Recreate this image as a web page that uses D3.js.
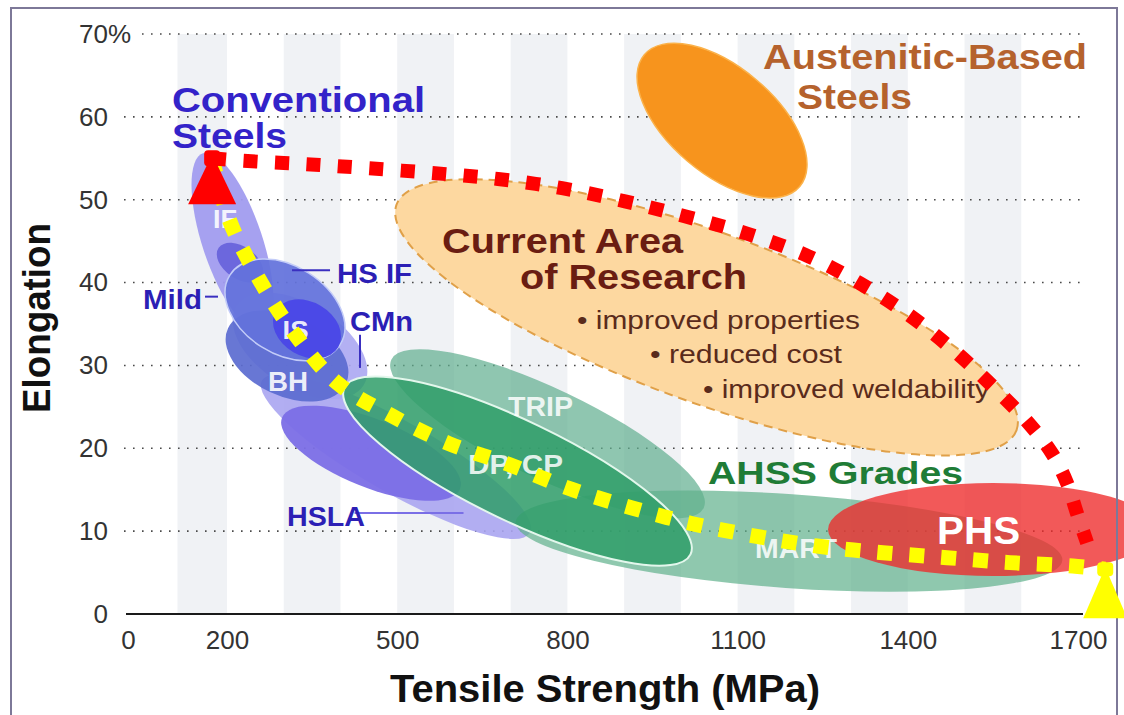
<!DOCTYPE html>
<html><head><meta charset="utf-8">
<script src="https://cdn.jsdelivr.net/npm/d3@7"></script>
<style>
body{margin:0;background:#fff}
svg{display:block;font-family:"Liberation Sans",Arial,Helvetica,sans-serif}
</style>
</head><body>
<svg id="chart" width="1124" height="715"></svg>
<script>
// ---------------- DATA ----------------
const xTicks = [0, 200, 500, 800, 1100, 1400, 1700];
const yTicks = [0, 10, 20, 30, 40, 50, 60, 70];
const stripeStarts = [100, 300, 500, 700, 900, 1100, 1300, 1500];
const stripeSpan = 100;

// ellipses: major-axis endpoints (MPa, %) and half width (% elongation)
const ellipseNames = ["current","austenitic","lavTail","lavIF","lavCMn","mild","hsla","bh","hsif","is","trip","mart","dpcp","phs"];
const ellipseX1 = [498.8, 935.6, 261.7, 151.5, 216.6, 183.2, 297.0, 201.8, 205.1, 286.0, 489.6, 708.9, 407.1, 1259.4];
const ellipseY1 = [49.4, 67.5, 28.2, 55.6, 37.1, 44.2, 23.7, 34.5, 40.9, 36.6, 30.7, 11.1, 27.3, 10.2];
const ellipseX2 = [1591.7, 1209.5, 734.0, 261.7, 440.8, 260.5, 610.7, 409.8, 399.4, 396.0, 1040.3, 1672.4, 1017.0, 1841.0];
const ellipseY2 = [22.2, 51.6, 9.8, 34.2, 27.6, 40.6, 15.1, 27.8, 32.5, 32.2, 12.8, 6.5, 7.2, 10.2];
const ellipseHalfWidth = [10.26, 6.43, 4.34, 3.62, 5.07, 1.93, 4.1, 4.83, 5.29, 3.26, 5.43, 5.67, 6.03, 5.61];

// red (upper) dotted trend curve
const redX = [170, 228, 337.5, 448.5, 566.7, 677.7, 790.5, 901.6, 1007, 1116.6, 1224, 1315.8, 1404, 1483, 1553.8, 1612, 1654, 1680.7, 1698, 1716];
const redY = [55.0, 54.7, 54.3, 53.8, 53.2, 52.5, 51.4, 49.8, 48.0, 45.9, 43.2, 39.9, 36.0, 31.7, 27.2, 23.1, 19.4, 15.8, 12.2, 8.6];
// yellow (lower) dotted trend curve
const yellowX = [170, 205, 255, 315, 394, 491, 590, 695, 801, 914, 1020, 1131, 1240, 1356, 1469, 1580, 1691, 1748];
const yellowY = [55.0, 47.4, 40.6, 34.2, 27.9, 23.9, 20.6, 18.1, 15.2, 12.8, 10.9, 9.4, 8.2, 7.4, 6.8, 6.2, 5.8, 5.4];
// triangle markers (MPa, %)
const redMarker = [170, 55.0];
const yellowMarker = [1748, 5.4];

// text labels (MPa, % baseline-start)
const labelText = ["Conventional","Steels","Austenitic-Based","Steels","Current Area","of Research",
  "\u2022 improved properties","\u2022 reduced cost","\u2022 improved weldability","AHSS Grades","PHS",
  "TRIP","DP, CP","MART","BH","IS","IF","HS IF","Mild","CMn","HSLA"];
const labelX = [88.9, 88.9, 1144.8, 1204.8, 579, 716.5, 817, 945.6, 1039, 1047.9, 1451.6, 695.3, 624.8, 1130.7, 272.3, 297.9, 171.7, 393.9, 30.3, 416.8, 305.8];
const labelY = [60.6, 56.3, 65.8, 60.9, 43.6, 39.2, 34.4, 30.3, 26.1, 15.7, 8.4, 23.9, 16.9, 6.8, 26.9, 33.2, 46.6, 39.9, 36.8, 34.2, 10.6];

// leader lines for small labels
const leaderX1 = [314.6, 155.6, 434.4, 424.8];
const leaderY1 = [41.5, 38.3, 33.7, 12.2];
const leaderX2 = [381.6, 181.8, 434.4, 616.9];
const leaderY2 = [41.5, 38.3, 29.7, 12.2];

// ---------------- STYLES ----------------
const ellipseStyle = {
  current:{fill:"#fdd8a0",stroke:"#e0a048",sw:2,dash:"9,6",op:1},
  austenitic:{fill:"#f7941d",stroke:"#fbb24a",sw:1.5,op:1},
  lavTail:{fill:"#aaa5f1",op:0.9},
  lavIF:{fill:"#a19cef",op:0.95},
  lavCMn:{fill:"#aba7f2",op:0.9},
  mild:{fill:"#6660da",op:0.9},
  hsla:{fill:"#7b6ee6",op:0.95},
  bh:{fill:"#5b6bd0",op:0.92},
  hsif:{fill:"#6372dc",op:0.93,stroke:"#c3ccf8",sw:1.5},
  is:{fill:"#4a47e7",op:0.95},
  trip:{fill:"#5fae8e",op:0.7},
  mart:{fill:"#5fb08b",op:0.7},
  dpcp:{fill:"#2f9e68",op:0.85,stroke:"#e3f7ec",sw:2},
  phs:{fill:"#ee2a2a",op:0.78}
};
const labelStyle = [
  {fs:35,fw:"bold",c:"#3323c9",len:253},{fs:35,fw:"bold",c:"#3323c9",len:115},
  {fs:35,fw:"bold",c:"#b5622d",len:324},{fs:35,fw:"bold",c:"#b5622d",len:115},
  {fs:35,fw:"bold",c:"#6a1d12",len:241},{fs:35,fw:"bold",c:"#6a1d12",len:227},
  {fs:26,fw:"normal",c:"#5a2b1b",len:283},{fs:26,fw:"normal",c:"#5a2b1b",len:192},{fs:26,fw:"normal",c:"#5a2b1b",len:287},
  {fs:32,fw:"bold",c:"#1f7c36",len:255},
  {fs:38,fw:"bold",c:"#ffffff",len:83},
  {fs:28,fw:"bold",c:"#ffffff",len:65,op:0.85},{fs:27,fw:"bold",c:"#ffffff",len:95,op:0.85},{fs:28,fw:"bold",c:"#ffffff",len:82,op:0.85},
  {fs:27,fw:"bold",c:"#ffffff",len:40,op:0.9},{fs:26,fw:"bold",c:"#ffffff",len:26,op:0.9},{fs:26,fw:"bold",c:"#ffffff",len:24,op:0.9},
  {fs:28,fw:"bold",c:"#2c1fb5",len:75},{fs:28,fw:"bold",c:"#2c1fb5",len:59},{fs:28,fw:"bold",c:"#2c1fb5",len:63},{fs:28,fw:"bold",c:"#2c1fb5",len:78}
];
const leaderColor = ["#3a2fc0","#3a2fc0","#3a2fc0","#7a6fe6"];

// ---------------- SCALES ----------------
const svg = d3.select("#chart");
const x = d3.scaleLinear().domain([0, 200, 1700]).range([128, 227, 1078]);
const y = d3.scaleLinear().domain([0, 70]).range([614, 34]);

svg.append("rect").attr("width",1124).attr("height",715).attr("fill","#fff");

// stripes
svg.append("g").selectAll("rect").data(stripeStarts).join("rect")
  .attr("x", d => x(d)).attr("width", d => x(d + stripeSpan) - x(d))
  .attr("y", y(70)).attr("height", y(0) - y(70))
  .attr("fill", "#f0f2f5");

// dotted gridlines
svg.append("g").selectAll("line").data(yTicks.filter(d => d > 0)).join("line")
  .attr("x1", d => d === 70 ? x(0) + 14 : x(0) - 4).attr("x2", x(1700) + 9)
  .attr("y1", d => y(d)).attr("y2", d => y(d))
  .attr("stroke", "#4a4a4a").attr("stroke-width", 1.6).attr("stroke-dasharray", "1.6,7.4");

// x axis
const xAxis = svg.append("g").attr("transform", `translate(0,${y(0)})`)
  .call(d3.axisBottom(x).tickValues(xTicks).tickSize(0).tickPadding(17).tickFormat(d3.format("d")));
xAxis.select(".domain").remove();
xAxis.selectAll("text").attr("font-size", 26).attr("fill", "#333")
  .attr("font-family", "Liberation Sans, Arial, sans-serif");
svg.append("line").attr("x1", x(0) - 2).attr("x2", x(1700) + 5)
  .attr("y1", y(0)).attr("y2", y(0)).attr("stroke", "#1a1a1a").attr("stroke-width", 2.2);

// y axis
const yAxis = svg.append("g").attr("transform", "translate(108,0)")
  .call(d3.axisLeft(y).tickValues(yTicks).tickSize(0).tickPadding(0).tickFormat(d3.format("d")));
yAxis.select(".domain").remove();
yAxis.selectAll("text").attr("font-size", 26).attr("fill", "#333")
  .attr("font-family", "Liberation Sans, Arial, sans-serif");
yAxis.selectAll(".tick").filter(d => d === 70).append("text")
  .attr("x", 0).attr("dy", "0.32em").attr("text-anchor", "start")
  .attr("font-size", 26).attr("fill", "#333").attr("font-family", "Liberation Sans, Arial, sans-serif")
  .text("%");

// axis titles
svg.append("text").attr("x", 390).attr("y", 702).attr("font-size", 38).attr("font-weight", "bold")
  .attr("fill", "#111").attr("textLength", 430).attr("lengthAdjust", "spacingAndGlyphs")
  .text("Tensile Strength (MPa)");
svg.append("text").attr("transform", "translate(50,318) rotate(-90)").attr("text-anchor", "middle")
  .attr("font-size", 39).attr("font-weight", "bold").attr("fill", "#111")
  .attr("textLength", 190).attr("lengthAdjust", "spacingAndGlyphs").text("Elongation");

// ellipses
const ellipses = ellipseNames.map((n, i) => {
  const px1 = x(ellipseX1[i]), py1 = y(ellipseY1[i]);
  const px2 = x(ellipseX2[i]), py2 = y(ellipseY2[i]);
  return {name: n, cx: (px1 + px2) / 2, cy: (py1 + py2) / 2,
    rx: Math.hypot(px2 - px1, py2 - py1) / 2,
    ry: y(0) - y(ellipseHalfWidth[i]),
    ang: Math.atan2(py2 - py1, px2 - px1) * 180 / Math.PI};
});
svg.append("g").selectAll("ellipse").data(ellipses).join("ellipse")
  .attr("cx", d => d.cx).attr("cy", d => d.cy).attr("rx", d => d.rx).attr("ry", d => d.ry)
  .attr("transform", d => `rotate(${d.ang},${d.cx},${d.cy})`)
  .attr("fill", d => ellipseStyle[d.name].fill)
  .attr("fill-opacity", d => ellipseStyle[d.name].op)
  .attr("stroke", d => ellipseStyle[d.name].stroke || "none")
  .attr("stroke-width", d => ellipseStyle[d.name].sw || 0)
  .attr("stroke-dasharray", d => ellipseStyle[d.name].dash || null);

// leader lines
svg.append("g").selectAll("line").data(leaderX1).join("line")
  .attr("x1", (d, i) => x(leaderX1[i])).attr("y1", (d, i) => y(leaderY1[i]))
  .attr("x2", (d, i) => x(leaderX2[i])).attr("y2", (d, i) => y(leaderY2[i]))
  .attr("stroke", (d, i) => leaderColor[i]).attr("stroke-width", 2);

// labels
svg.append("g").selectAll("text").data(labelText).join("text")
  .attr("x", (d, i) => x(labelX[i])).attr("y", (d, i) => y(labelY[i]))
  .attr("font-size", (d, i) => labelStyle[i].fs).attr("font-weight", (d, i) => labelStyle[i].fw)
  .attr("fill", (d, i) => labelStyle[i].c).attr("fill-opacity", (d, i) => labelStyle[i].op || 1)
  .attr("textLength", (d, i) => labelStyle[i].len).attr("lengthAdjust", "spacingAndGlyphs")
  .text(d => d);

// frame
svg.append("rect").attr("x", 11).attr("y", 8).attr("width", 1106).attr("height", 730)
  .attr("fill", "none").attr("stroke", "#7d7898").attr("stroke-width", 2);

// dotted trend curves
const line = d3.line().x(d => x(d[0])).y(d => y(d[1])).curve(d3.curveCatmullRom.alpha(0.5));
svg.append("path").datum(yellowX.map((v, i) => [v, yellowY[i]])).attr("d", line)
  .attr("fill", "none").attr("stroke", "#ffff00").attr("stroke-width", 15)
  .attr("stroke-dasharray", "15,17");
svg.append("path").datum(redX.map((v, i) => [v, redY[i]])).attr("d", line)
  .attr("fill", "none").attr("stroke", "#ff0000").attr("stroke-width", 14)
  .attr("stroke-dasharray", "14,17.5");

// triangle markers
function tri(p, h, w, up) {
  const px = x(p[0]), py = y(p[1]);
  return `M${px},${py - up}L${px - w},${py + h}L${px + w},${py + h}Z`;
}
svg.append("path").attr("d", tri(redMarker, 46, 24, 4)).attr("fill", "#ff0000");
svg.append("rect").attr("x", x(redMarker[0]) - 8).attr("y", y(redMarker[1]) - 8)
  .attr("width", 16).attr("height", 16).attr("rx", 4).attr("fill", "#ff0000");
svg.append("path").attr("d", tri(yellowMarker, 49, 22, 2)).attr("fill", "#ffff00");
svg.append("rect").attr("x", x(yellowMarker[0]) - 8).attr("y", y(yellowMarker[1]) - 7)
  .attr("width", 16).attr("height", 14).attr("rx", 4).attr("fill", "#ffff00");
</script>
</body></html>
